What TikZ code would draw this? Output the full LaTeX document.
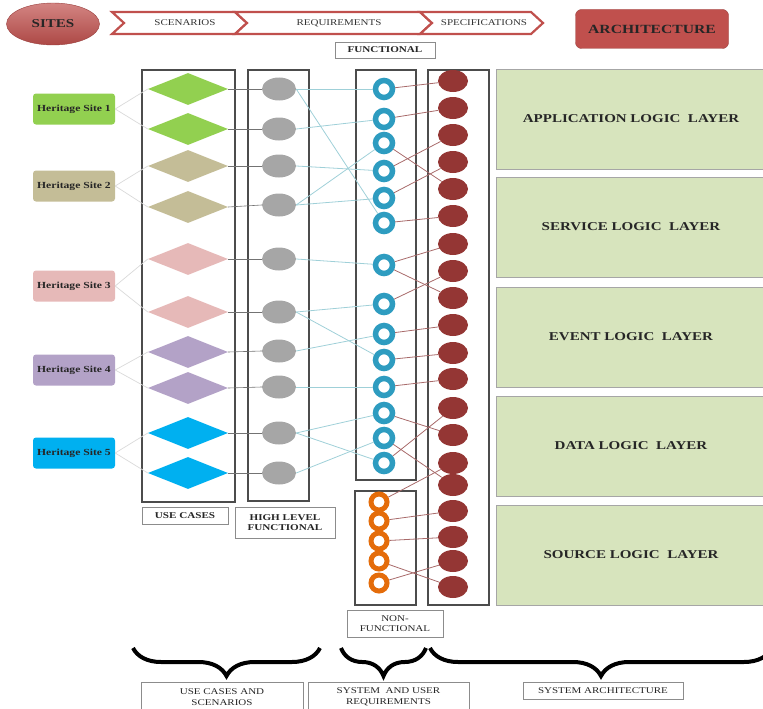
\documentclass[tikz,border=0pt]{standalone}
\usepackage{fontspec}
\setmainfont[FakeStretch=1.25]{Liberation Serif}
\usetikzlibrary{shapes.geometric,decorations.pathreplacing}

\definecolor{sitered}{HTML}{C0504D}
\definecolor{siteone}{HTML}{92D050}
\definecolor{sitetwo}{HTML}{C4BD97}
\definecolor{sitethree}{HTML}{E6B9B8}
\definecolor{sitefour}{HTML}{B3A2C7}
\definecolor{sitefive}{HTML}{00B0F0}
\definecolor{ringblue}{HTML}{2E9CC0}
\definecolor{ringorange}{HTML}{E46C0A}
\definecolor{archred}{HTML}{943634}
\definecolor{layergreen}{HTML}{D7E4BD}
\definecolor{fnline}{HTML}{9FD0D8}
\definecolor{archline}{HTML}{A86A6A}

\begin{document}
\begin{tikzpicture}[x=1pt,y=-1pt,
    sitesball/.style={ellipse,draw=sitered!80!black,top color=sitered!70!white,bottom color=sitered!90!black,
        minimum width=93pt,minimum height=42pt,inner sep=0pt,font=\fontsize{12}{14}\selectfont\bfseries,text=black!85},
    archbox/.style={rectangle,rounded corners=6pt,draw=sitered!80!black,fill=sitered,
        minimum width=153pt,minimum height=39pt,inner sep=0pt,font=\fontsize{12.5}{14}\selectfont\bfseries,text=black!85},
    chevron/.style={draw=sitered,line width=2.2pt,fill=white,line join=miter},
    plain/.style={inner sep=0pt,font=\fontsize{8.8}{10.5}\selectfont,text=black!80},
    site/.style={rectangle,rounded corners=3pt,minimum width=82pt,minimum height=31pt,inner sep=0pt,
        font=\fontsize{9.3}{11}\selectfont\bfseries,text=black!85},
    usecase/.style={diamond,minimum width=80pt,minimum height=32pt,inner sep=0pt},
    hlf/.style={ellipse,fill=black!35,minimum width=34pt,minimum height=23pt,inner sep=0pt},
    fring/.style={circle,draw=ringblue,line width=5.5pt,minimum size=17pt,inner sep=0pt},
    nfring/.style={circle,draw=ringorange,line width=5pt,minimum size=16pt,inner sep=0pt},
    arch/.style={ellipse,fill=archred,minimum width=30pt,minimum height=22pt,inner sep=0pt},
    colbox/.style={draw=black!70,line width=1.2pt,inner sep=0pt},
    tag/.style={draw=black!45,fill=white,inner sep=0pt,align=center,font=\fontsize{8.8}{10.5}\selectfont,text=black!85},
    boldtag/.style={tag,font=\fontsize{8.9}{10.5}\selectfont\bfseries},
    layer/.style={draw=black!35,fill=layergreen,minimum width=270pt,minimum height=100pt,inner sep=0pt,
        font=\fontsize{12}{14}\selectfont\bfseries,text=black!85},
    sitelink/.style={draw=black!15,line width=0.7pt},
    uclink/.style={draw=black!55,line width=0.6pt},
    fnlink/.style={draw=fnline,line width=0.8pt},
    archlink/.style={draw=archline,line width=0.8pt},
    bigbrace/.style={decorate,decoration={brace,amplitude=28pt,mirror},line width=4pt}]

\useasboundingbox (0,0) rectangle (763,709);

% Header row
\node[sitesball] (sites) at (53,24) {SITES};
\draw[chevron] (112,12) -- (235,12) -- (247,23) -- (235,34) -- (112,34) -- (124,23) -- cycle;
\draw[chevron] (235,12) -- (420,12) -- (432,23) -- (420,34) -- (235,34) -- (247,23) -- cycle;
\draw[chevron] (420,12) -- (531,12) -- (543,23) -- (531,34) -- (420,34) -- (432,23) -- cycle;
\node[plain] (scen) at (185,23) {SCENARIOS};
\node[plain] (req) at (339,23) {REQUIREMENTS};
\node[plain] (spec) at (484,23) {SPECIFICATIONS};
\node[archbox] (archi) at (652,29) {ARCHITECTURE};
\node[boldtag,minimum width=100pt,minimum height=16pt] (functag) at (385,50) {FUNCTIONAL};

% Column frames
\node[colbox,minimum width=93pt,minimum height=432pt] (ucol) at (188.5,286) {};
\node[colbox,minimum width=61pt,minimum height=431pt] (hcol) at (278.5,285.5) {};
\node[colbox,minimum width=60pt,minimum height=410pt] (fcol) at (386,275) {};
\node[colbox,minimum width=61pt,minimum height=114pt] (nfcol) at (385.5,548) {};
\node[colbox,minimum width=61pt,minimum height=535pt] (acol) at (458.5,337.5) {};

% Heritage sites
\node[site,fill=siteone] (s1) at (74,109) {Heritage Site 1};
\node[site,fill=sitetwo] (s2) at (74,186) {Heritage Site 2};
\node[site,fill=sitethree] (s3) at (74,286) {Heritage Site 3};
\node[site,fill=sitefour] (s4) at (74,370) {Heritage Site 4};
\node[site,fill=sitefive] (s5) at (74,453) {Heritage Site 5};

% Use cases
\node[usecase,fill=siteone] (d1) at (188,89) {};
\node[usecase,fill=siteone] (d2) at (188,129) {};
\node[usecase,fill=sitetwo] (d3) at (188,166) {};
\node[usecase,fill=sitetwo] (d4) at (188,207) {};
\node[usecase,fill=sitethree] (d5) at (188,259) {};
\node[usecase,fill=sitethree] (d6) at (188,312) {};
\node[usecase,fill=sitefour] (d7) at (188,352) {};
\node[usecase,fill=sitefour] (d8) at (188,388) {};
\node[usecase,fill=sitefive] (d9) at (188,433) {};
\node[usecase,fill=sitefive] (d10) at (188,473) {};

% High level functional
\node[hlf] (e1) at (279,89) {};
\node[hlf] (e2) at (279,129) {};
\node[hlf] (e3) at (279,166) {};
\node[hlf] (e4) at (279,205) {};
\node[hlf] (e5) at (279,259) {};
\node[hlf] (e6) at (279,312) {};
\node[hlf] (e7) at (279,351) {};
\node[hlf] (e8) at (279,387) {};
\node[hlf] (e9) at (279,433) {};
\node[hlf] (e10) at (279,473) {};

% Functional requirements
\node[fring] (b1) at (384,89) {};
\node[fring] (b2) at (384,119) {};
\node[fring] (b3) at (384,143) {};
\node[fring] (b4) at (384,171) {};
\node[fring] (b5) at (384,198) {};
\node[fring] (b6) at (384,223) {};
\node[fring] (b7) at (384,265) {};
\node[fring] (b8) at (384,304) {};
\node[fring] (b9) at (384,334) {};
\node[fring] (b10) at (384,360) {};
\node[fring] (b11) at (384,387) {};
\node[fring] (b12) at (384,413) {};
\node[fring] (b13) at (384,438) {};
\node[fring] (b14) at (384,463) {};

% Non-functional requirements
\node[nfring] (o1) at (379,502) {};
\node[nfring] (o2) at (379,521) {};
\node[nfring] (o3) at (379,541) {};
\node[nfring] (o4) at (379,561) {};
\node[nfring] (o5) at (379,583) {};

% Architecture components
\node[arch] (r1) at (453,81) {};
\node[arch] (r2) at (453,108) {};
\node[arch] (r3) at (453,135) {};
\node[arch] (r4) at (453,162) {};
\node[arch] (r5) at (453,189) {};
\node[arch] (r6) at (453,216) {};
\node[arch] (r7) at (453,244) {};
\node[arch] (r8) at (453,271) {};
\node[arch] (r9) at (453,298) {};
\node[arch] (r10) at (453,325) {};
\node[arch] (r11) at (453,353) {};
\node[arch] (r12) at (453,379) {};
\node[arch] (r13) at (453,408) {};
\node[arch] (r14) at (453,435) {};
\node[arch] (r15) at (453,463) {};
\node[arch] (r16) at (453,485) {};
\node[arch] (r17) at (453,511) {};
\node[arch] (r18) at (453,537) {};
\node[arch] (r19) at (453,561) {};
\node[arch] (r20) at (453,587) {};

% Layers
\node[layer] (app) at (631,119) {APPLICATION LOGIC \ LAYER};
\node[layer] (serv) at (631,227) {SERVICE LOGIC \ LAYER};
\node[layer] (event) at (631,337) {EVENT LOGIC \ LAYER};
\node[layer] (data) at (631,446) {DATA LOGIC \ LAYER};
\node[layer] (src) at (631,555) {SOURCE LOGIC \ LAYER};

% Sites to use cases
\draw[sitelink] (s1.east) -- (d1.west);
\draw[sitelink] (s1.east) -- (d2.west);
\draw[sitelink] (s2.east) -- (d3.west);
\draw[sitelink] (s2.east) -- (d4.west);
\draw[sitelink] (s3.east) -- (d5.west);
\draw[sitelink] (s3.east) -- (d6.west);
\draw[sitelink] (s4.east) -- (d7.west);
\draw[sitelink] (s4.east) -- (d8.west);
\draw[sitelink] (s5.east) -- (d9.west);
\draw[sitelink] (s5.east) -- (d10.west);

% Use cases to high level functional
\draw[uclink] (d1.east) -- (e1.west);
\draw[uclink] (d2.east) -- (e2.west);
\draw[uclink] (d3.east) -- (e3.west);
\draw[uclink] (d4.east) -- (e4.west);
\draw[uclink] (d5.east) -- (e5.west);
\draw[uclink] (d6.east) -- (e6.west);
\draw[uclink] (d7.east) -- (e7.west);
\draw[uclink] (d8.east) -- (e8.west);
\draw[uclink] (d9.east) -- (e9.west);
\draw[uclink] (d10.east) -- (e10.west);

% High level functional to functional requirements
\draw[fnlink] (e1.east) -- (b1);
\draw[fnlink] (e1.east) -- (b6);
\draw[fnlink] (e2.east) -- (b2);
\draw[fnlink] (e3.east) -- (b4);
\draw[fnlink] (e4.east) -- (b3);
\draw[fnlink] (e4.east) -- (b5);
\draw[fnlink] (e5.east) -- (b7);
\draw[fnlink] (e6.east) -- (b8);
\draw[fnlink] (e6.east) -- (b10);
\draw[fnlink] (e7.east) -- (b9);
\draw[fnlink] (e8.east) -- (b11);
\draw[fnlink] (e9.east) -- (b12);
\draw[fnlink] (e9.east) -- (b14);
\draw[fnlink] (e10.east) -- (b13);

% Requirements to architecture
\draw[archlink] (b1) -- (r1);
\draw[archlink] (b2) -- (r2);
\draw[archlink] (b3) -- (r5);
\draw[archlink] (b4) -- (r3);
\draw[archlink] (b5) -- (r4);
\draw[archlink] (b6) -- (r6);
\draw[archlink] (b7) -- (r7);
\draw[archlink] (b7) -- (r9);
\draw[archlink] (b8) -- (r8);
\draw[archlink] (b9) -- (r10);
\draw[archlink] (b10) -- (r11);
\draw[archlink] (b11) -- (r12);
\draw[archlink] (b12) -- (r14);
\draw[archlink] (b13) -- (r16);
\draw[archlink] (b14) -- (r13);
\draw[archlink] (o1) -- (r15);
\draw[archlink] (o2) -- (r17);
\draw[archlink] (o3) -- (r18);
\draw[archlink] (o4) -- (r20);
\draw[archlink] (o5) -- (r19);

% Column captions
\node[boldtag,minimum width=86pt,minimum height=17pt] (uctag) at (185,515.5) {USE CASES};
\node[boldtag,minimum width=100pt,minimum height=31pt] (hlftag) at (285,522.5) {HIGH LEVEL\\FUNCTIONAL};
\node[tag,minimum width=96pt,minimum height=27pt] (nftag) at (395,623.5) {NON-\\FUNCTIONAL};

% Braces and group captions
\coordinate (bra) at (133,648);
\coordinate (brb) at (320,648);
\coordinate (brc) at (341,648);
\coordinate (brd) at (426,648);
\coordinate (bre) at (430,648);
\coordinate (brf) at (772,648);
\draw[bigbrace] (bra) -- (brb);
\draw[bigbrace] (brc) -- (brd);
\draw[bigbrace] (bre) -- (brf);
\node[tag,minimum width=162pt,minimum height=30pt] (grp1) at (222,697) {USE CASES AND\\SCENARIOS};
\node[tag,minimum width=161pt,minimum height=30pt] (grp2) at (388.5,697) {SYSTEM \ AND USER\\REQUIREMENTS};
\node[tag,minimum width=160pt,minimum height=17pt] (grp3) at (603,691) {SYSTEM ARCHITECTURE};

\end{tikzpicture}
\end{document}
